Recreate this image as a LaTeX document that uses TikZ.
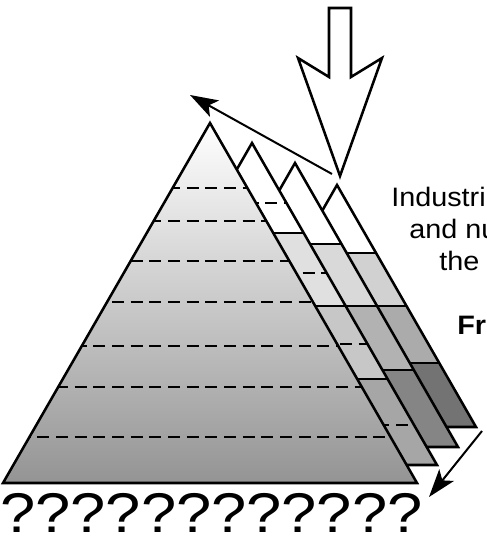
\documentclass[tikz,border=0pt]{standalone}
\usepackage{fontspec}
\setmainfont[FakeStretch=1.08]{Liberation Sans}
\newfontfamily\markfont[FakeStretch=1.13]{Liberation Sans}
\usetikzlibrary{arrows.meta}

\begin{document}
\begin{tikzpicture} [x = 0.75pt, y = -0.75pt,
	rim/.style = {line width = 1.9pt, line join = miter},
	bandline/.style = {line width = 1.6pt},
	layerline/.style = {line width = 1.7pt, dash pattern = on 9pt off 5pt},
	pointer/.style = {line width = 1.5pt, -{Stealth[length = 21pt, width = 14pt, inset = 5pt]}},
	caption/.style = {anchor = base west, inner sep = 0pt, font = \fontsize{20}{24}\selectfont}]
	\useasboundingbox (0,0) rectangle (486,545);

	% back slice
	\begin{scope}
		\clip (337,185) -- (476,427) -- (198,427) -- cycle;
		\fill [white] (190,180) rectangle (480,253);
		\fill [black!18] (190,253) rectangle (480,306);
		\fill [black!33] (190,306) rectangle (480,363);
		\fill [black!55] (190,363) rectangle (480,430);
		\draw [bandline] (190,253) -- (480,253);
		\draw [bandline] (190,306) -- (480,306);
		\draw [bandline] (190,363) -- (480,363);
	\end{scope}
	\draw [rim] (337,185) -- (476,427) -- (198,427) -- cycle;

	% third slice
	\begin{scope}
		\clip (295,163) -- (458,447) -- (132,447) -- cycle;
		\fill [white] (120,160) rectangle (470,244);
		\fill [black!15] (120,244) rectangle (470,306);
		\fill [black!30] (120,306) rectangle (470,370);
		\fill [black!48] (120,370) rectangle (470,450);
		\draw [bandline] (120,244) -- (470,244);
		\draw [bandline] (120,306) -- (470,306);
		\draw [bandline] (120,370) -- (470,370);
	\end{scope}
	\draw [rim] (295,163) -- (458,447) -- (132,447) -- cycle;

	% second slice
	\begin{scope}
		\clip (252,143) -- (437,465) -- (67,465) -- cycle;
		\fill [white] (60,140) rectangle (450,233);
		\fill [black!12] (60,233) rectangle (450,306);
		\fill [black!22] (60,306) rectangle (450,379);
		\fill [black!35] (60,379) rectangle (450,470);
		\draw [bandline] (60,233) -- (450,233);
		\draw [bandline] (60,306) -- (450,306);
		\draw [bandline] (60,379) -- (450,379);
		\draw [layerline] (60,203) -- (450,203);
		\draw [layerline] (60,273) -- (450,273);
		\draw [layerline] (60,344) -- (450,344);
		\draw [layerline] (60,425) -- (450,425);
	\end{scope}
	\draw [rim] (252,143) -- (437,465) -- (67,465) -- cycle;

	% front pyramid
	\shade [top color = white, bottom color = black!42] (210,123) -- (417,483) -- (3,483) -- cycle;
	\begin{scope}
		\clip (210,123) -- (417,483) -- (3,483) -- cycle;
		\draw [layerline] (0,188) -- (420,188);
		\draw [layerline] (0,221) -- (420,221);
		\draw [layerline] (0,261) -- (420,261);
		\draw [layerline] (0,302) -- (420,302);
		\draw [layerline] (0,346) -- (420,346);
		\draw [layerline] (0,387) -- (420,387);
		\draw [layerline] (0,437) -- (420,437);
	\end{scope}
	\draw [rim] (210,123) -- (417,483) -- (3,483) -- cycle;

	% big hollow arrow
	\draw [rim, fill = white] (329,8) -- (329,77) -- (298,58) -- (340,176) -- (382,58) -- (351,77) -- (351,8) -- cycle;

	\coordinate (spark) at (332,174);
	\coordinate (upTip) at (190,95);
	\draw [pointer] (spark) -- (upTip);
	\coordinate (dropStart) at (482,431);
	\coordinate (dropTip) at (429,497);
	\draw [pointer] (dropStart) -- (dropTip);

	\node [anchor = base west, inner sep = 0pt, font = \markfont\fontsize{42}{46}\selectfont] (unknowns) at (0,532) {????????????};

	\node [caption] (lineA) at (391,206) {Industri};
	\node [caption] (lineB) at (409,238) {and nu};
	\node [caption] (lineC) at (439,270) {the};
	\node [caption, font = \fontsize{20}{24}\selectfont\bfseries] (lineD) at (457,334) {Fr};
\end{tikzpicture}
\end{document}
